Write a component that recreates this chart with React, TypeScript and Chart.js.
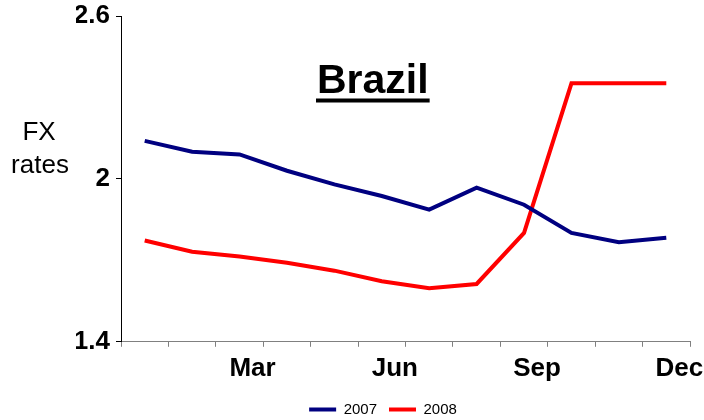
import React, { useEffect, useRef } from 'react';
import { Chart, registerables } from 'chart.js';

Chart.register(...registerables);

const months = ['Jan', 'Feb', 'Mar', 'Apr', 'May', 'Jun', 'Jul', 'Aug', 'Sep', 'Oct', 'Nov', 'Dec'];
const shownMonthLabels = ['Mar', 'Jun', 'Sep', 'Dec'];
const series2007 = [2.14, 2.1, 2.09, 2.03, 1.98, 1.937, 1.887, 1.968, 1.905, 1.801, 1.767, 1.783];
const series2008 = [1.773, 1.732, 1.714, 1.691, 1.662, 1.623, 1.597, 1.613, 1.801, 2.352, 2.352, 2.352];
const yTickValues = [1.4, 2, 2.6];
const titleText = 'Brazil';
const yTitleLines = ['FX', 'rates'];

const FONT = '"Liberation Sans", Arial, sans-serif';

const overlayPlugin = {
  id: 'overlayText',
  afterDraw(chart: any) {
    const { ctx, chartArea } = chart;
    ctx.save();
    // Title
    ctx.fillStyle = '#000';
    ctx.font = `bold 41px ${FONT}`;
    ctx.textAlign = 'left';
    ctx.textBaseline = 'alphabetic';
    const tx = chartArea.left + 196;
    const ty = chartArea.top + 77;
    ctx.fillText(titleText, tx, ty);
    const w = ctx.measureText(titleText).width;
    ctx.fillRect(tx - 1, ty + 5.5, w + 2, 4);
    // Y axis title
    ctx.font = `26px ${FONT}`;
    ctx.textAlign = 'center';
    ctx.textBaseline = 'middle';
    ctx.fillText(yTitleLines[0], 39, 133);
    ctx.fillText(yTitleLines[1], 40, 166);
    ctx.restore();
  },
};

export default function App() {
  const ref = useRef<HTMLCanvasElement | null>(null);

  useEffect(() => {
    if (!ref.current) return;
    const chart = new Chart(ref.current, {
      type: 'line',
      data: {
        labels: months,
        datasets: [
          {
            label: '2007',
            data: series2007,
            borderColor: '#000080',
            backgroundColor: '#000080',
            borderWidth: 4,
            pointRadius: 0,
            tension: 0,
          },
          {
            label: '2008',
            data: series2008,
            borderColor: '#FF0000',
            backgroundColor: '#FF0000',
            borderWidth: 4,
            pointRadius: 0,
            tension: 0,
          },
        ],
      },
      options: {
        animation: false,
        responsive: true,
        maintainAspectRatio: false,
        layout: { padding: { left: 76, right: 14, top: 16, bottom: -7 } },
        plugins: {
          tooltip: { enabled: false },
          title: { display: false },
          legend: {
            display: true,
            position: 'bottom',
            labels: {
              boxWidth: 27,
              boxHeight: 4,
              padding: 12,
              color: '#000',
              font: { family: FONT, size: 15 },
              generateLabels: (c: any) =>
                c.data.datasets.map((ds: any, i: number) => ({
                  text: ds.label,
                  fillStyle: ds.borderColor,
                  strokeStyle: ds.borderColor,
                  lineWidth: 0,
                  hidden: false,
                  datasetIndex: i,
                  fontColor: '#000',
                })),
            },
          },
        },
        scales: {
          x: {
            type: 'category',
            offset: true,
            grid: {
              offset: true,
              drawOnChartArea: false,
              drawTicks: true,
              tickLength: 5,
              color: '#808080',
            },
            border: { display: true, color: '#808080', width: 1 },
            ticks: {
              autoSkip: false,
              maxRotation: 0,
              minRotation: 0,
              padding: 6,
              labelOffset: 13,
              color: '#000',
              font: { family: FONT, size: 26, weight: 'bold' },
              callback: function (this: any, value: any) {
                const lab = this.getLabelForValue(value);
                return shownMonthLabels.includes(lab) ? lab : '';
              },
            },
          },
          y: {
            min: 1.4,
            max: 2.6,
            afterBuildTicks: (s: any) => {
              s.ticks = yTickValues.map((v) => ({ value: v }));
            },
            afterFit: (s: any) => {
              s.width = 45;
              s.paddingTop = 0;
              s.paddingBottom = 0;
            },
            grid: {
              drawOnChartArea: false,
              drawTicks: true,
              tickLength: 5,
              color: '#000',
            },
            border: { display: true, color: '#000', width: 1 },
            ticks: {
              padding: 6,
              color: '#000',
              font: { family: FONT, size: 26, weight: 'bold' },
              callback: (v: any) => String(v),
            },
          },
        },
      },
      plugins: [overlayPlugin],
    });
    return () => chart.destroy();
  }, []);

  return (
    <div style={{ position: 'fixed', left: 0, top: 0, width: 704, height: 420, background: '#fff' }}>
      <canvas ref={ref} />
    </div>
  );
}
